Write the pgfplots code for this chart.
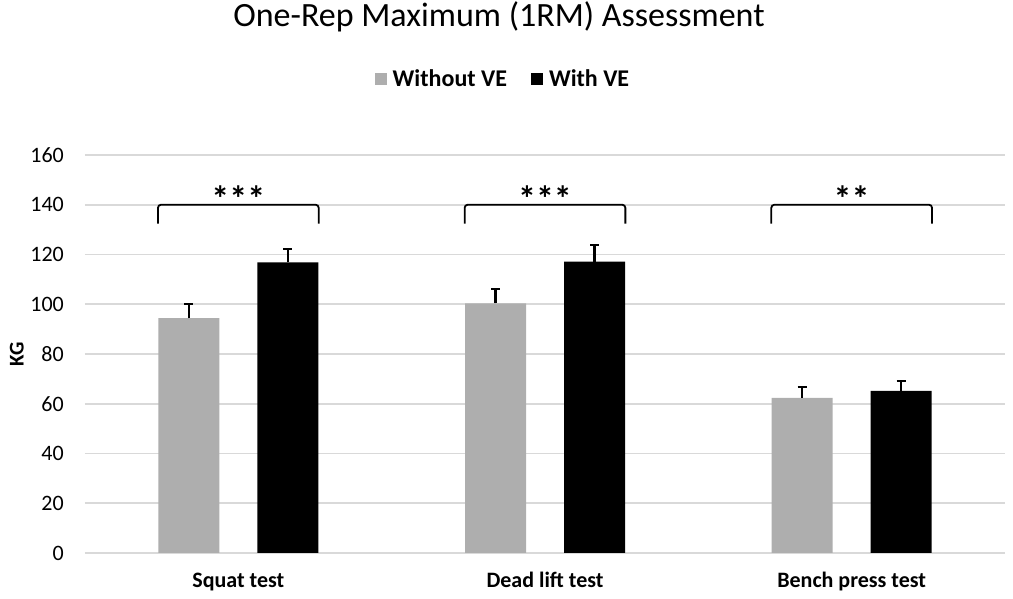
\documentclass[border=0pt]{standalone}
\usepackage{fontspec}
\setmainfont{Carlito}
\usepackage{pgfplots}
\pgfplotsset{compat=1.18}
\definecolor{barGray}{RGB}{174,174,174}
\definecolor{gridGray}{RGB}{217,217,217}
\begin{document}
\begin{tikzpicture}[x=1pt,y=1pt]
\path[use as bounding box] (0,0) rectangle (1013,599);
\node[anchor=base, font=\fontsize{34}{36}\selectfont] at (499,572) {One-Rep Maximum (1RM) Assessment};
\begin{axis}[
  at={(85pt,46pt)}, anchor=south west,
  scale only axis, width=920pt, height=398pt,
  xmin=-0.5, xmax=2.5, ymin=0, ymax=160,
  ybar=38pt, bar width=61pt,
  xtick={0,1,2}, xticklabels={Squat test, Dead lift test, Bench press test},
  ytick={0,20,...,160},
  major tick length=0pt,
  axis line style={draw=none},
  axis x line*=bottom,
  ymajorgrids, grid style={gridGray, line width=1.6pt},
  /pgf/number format/assume math mode=true,
  tick label style={font=\fontsize{22}{24}\selectfont},
  yticklabel style={anchor=east, inner sep=0pt, xshift=-21pt},
  xticklabel style={font=\fontsize{22}{24}\selectfont\bfseries, anchor=base, inner sep=0pt, yshift=-35pt},
  ylabel={KG}, ylabel style={font=\fontsize{21}{24}\selectfont\bfseries, at={(axis description cs:-0.074,0.5)}, anchor=center},
  legend columns=2,
  legend style={at={(0.4543,1.191)}, anchor=center, draw=none, fill=none,
    font=\fontsize{24}{26}\selectfont\bfseries,
    /tikz/every even column/.append style={column sep=22pt}},
  legend image code/.code={\fill[#1] (0pt,-6pt) rectangle (12pt,6pt);},
  error bars/y dir=plus, error bars/y explicit,
  error bars/error bar style={black, line width=2.5pt},
  error bars/error mark options={black, line width=2pt, mark size=4.5pt, rotate=90},
  clip=false,
]
\draw[gridGray, line width=1.6pt] (axis cs:-0.5,0) -- (axis cs:2.5,0);
\addplot[fill=barGray, draw=none] coordinates {
  (0,94.4) +- (0,5.6)
  (1,100.3) +- (0,5.9)
  (2,62.4) +- (0,4.4)
};
\addplot[fill=black, draw=none] coordinates {
  (0,116.8) +- (0,5.5)
  (1,117.1) +- (0,6.8)
  (2,65.2) +- (0,4.0)
};
\legend{\hspace{4pt}Without VE, \hspace{4pt}With VE}
\foreach \c/\s in {0/***,1/***,2/**} {
  \edef\temp{\noexpand\draw[black, line width=1.8pt, rounded corners=3pt] (axis cs:\c-0.262,132.4) -- (axis cs:\c-0.262,140) -- (axis cs:\c+0.262,140) -- (axis cs:\c+0.262,132.4);
  \noexpand\node[font=\noexpand\fontsize{36}{38}\noexpand\selectfont\noexpand\bfseries, anchor=center] at (axis cs:\c,142.5) {\s};}
  \temp
}
\end{axis}
\end{tikzpicture}
\end{document}
